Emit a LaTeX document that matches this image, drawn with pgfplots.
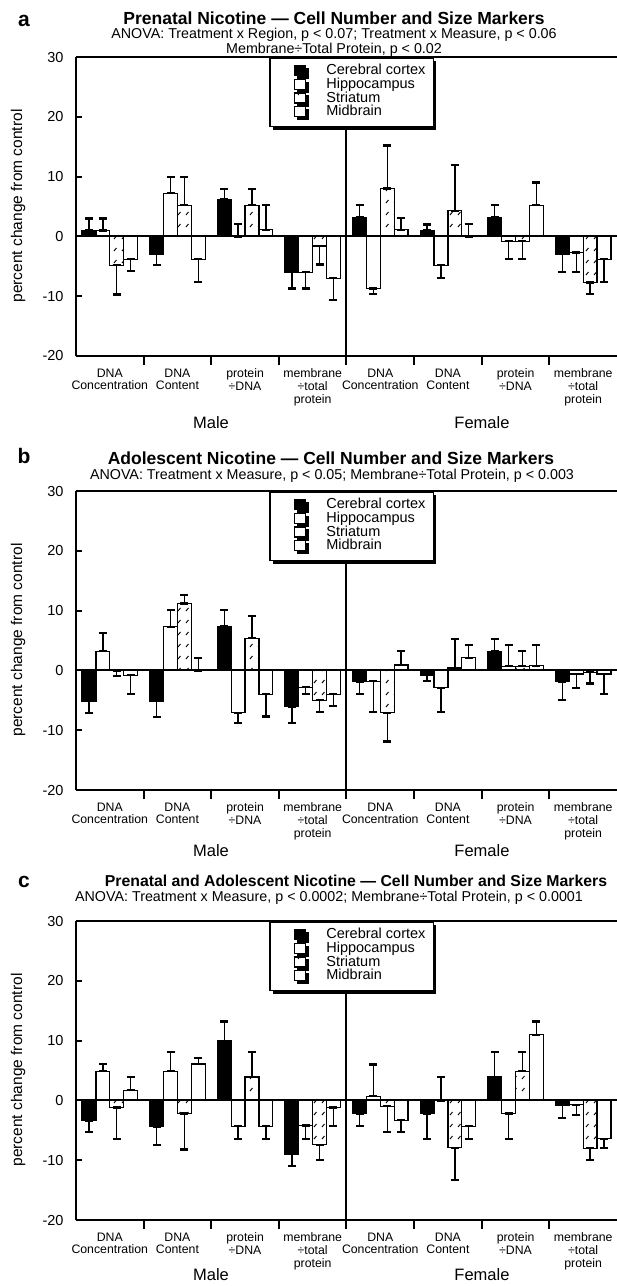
\documentclass[border=0pt]{standalone}
\usepackage{fontspec}
\setmainfont{Liberation Sans}
\usepackage{pgfplots}
\usepackage{pgfplotstable}
\pgfplotsset{compat=1.18}
\usetikzlibrary{patterns,shadows}

% sparse slanted dashes used for the striatum bars
\pgfdeclarepatternformonly{dashdots}{\pgfpoint{-1pt}{-1pt}}{\pgfpoint{9pt}{13pt}}{\pgfpoint{8pt}{12pt}}{%
  \pgfsetlinewidth{0.9pt}%
  \pgfpathmoveto{\pgfpoint{2pt}{3pt}}\pgfpathlineto{\pgfpoint{4.5pt}{6pt}}\pgfusepath{stroke}%
}

% columns: group centre, then value / error up / error down for
% cortex (c), hippocampus (h), striatum (s), midbrain (m)
\pgfplotstableread{
x   cy   cp  cm   hy   hp  hm   sy   sp  sm   my   mp  mm
0.5 1    2   0    1    2   0    -4.8 0   4.9  -3.8 0   2
1.5 -3   0   1.8  7.2  2.8 0    5.2  4.8 0    -3.8 0   3.8
2.5 6.2  1.7 0    0    2.1 0    5.2  2.7 0    1.1  4.1 0
3.5 -6   0   2.7  -6   0   2.7  -1.6 0   3.1  -7   0   3.7
4.5 3.2  2   0    -8.7 0   0.9  8    7.2 0    1.1  2   0
5.5 1    1   0    -4.8 0   2.1  4.3  7.7 0    0    2.1 0
6.5 3.2  2   0    -0.8 0   3    -0.8 0   3    5.2  3.8 0
7.5 -3   0   3    -2.7 0   3.3  -7.7 0   1.9  -3.8 0   3.8
}\prenatal

\pgfplotstableread{
x   cy   cp  cm   hy   hp  hm   sy   sp  sm   my   mp  mm
0.5 -5.1 0   2    3.2  3.1 0    0    0   1    -0.8 0   3.2
1.5 -5.1 0   2.7  7.3  2.8 0    11.2 1.4 0    0    2.1 0
2.5 7.4  2.7 0    -7.1 0   1.7  5.4  3.7 0    -4   0   3.7
3.5 -6.1 0   2.7  -2.8 0   1.2  -5   0   2    -4   0   2
4.5 -1.9 0   2.1  -1.8 0   5.2  -7.1 0   4.8  0.9  2.3 0
5.5 -0.8 0   1    -2.9 0   4.1  0.4  4.9 0    2.1  2.1 0
6.5 3.2  2.1 0    0.7  3.5 0    0.7  2.5 0    0.8  3.4 0
7.5 -1.9 0   3.1  -0.6 0   2.3  -0.3 0   1.9  -0.6 0   3.4
}\adolescent

\pgfplotstableread{
x   cy   cp  cm   hy   hp  hm   sy   sp  sm   my   mp  mm
0.5 -3.4 0   1.9  4.9  1.2 0    -1.2 0   5.3  1.7  2.2 0
1.5 -4.4 0   3    4.9  3.2 0    -2.2 0   6    6.1  1   0
2.5 10   3.2 0    -4.3 0   2.2  3.9  4.2 0    -4.3 0   2.2
3.5 -9   0   2    -4.2 0   2.3  -7.4 0   2.6  -1.2 0   3.1
4.5 -2.2 0   2.1  0.7  5.3 0    -1   0   4.3  -3.3 0   2
5.5 -2.2 0   4.3  0    3.9 0    -7.9 0   5.4  -4.3 0   2.2
6.5 3.9  4.2 0    -2.2 0   4.3  4.9  3.2 0    11   2.2 0
7.5 -0.8 0   2.1  -0.7 0   1.8  -8   0   2    -6.4 0   1.5
}\both

\pgfplotsset{
  panel/.style={
    scale only axis, width=541pt, height=299pt,
    anchor=south west, clip=false,
    xmin=0, xmax=8, ymin=-20, ymax=30,
    axis lines*=left, axis line style={line width=2pt},
    ytick={-20,-10,0,10,20,30},
    yticklabels={-20,-10,0,10,20,30},
    yticklabel style={font=\fontsize{14.5}{14.5}\selectfont, xshift=-9pt},
    major tick length=6pt, minor tick length=9pt, tick align=inside,
    every tick/.style={line width=2pt, black},
    xtick={0.5,1.5,...,7.5},
    major x tick style={draw=none},
    minor xtick={1,2,...,7},
    xticklabels={DNA\\Concentration, DNA\\Content, protein\\÷DNA, membrane\\÷total\\protein,
                 DNA\\Concentration, DNA\\Content, protein\\÷DNA, membrane\\÷total\\protein},
    xticklabel style={font=\fontsize{12.3}{12.8}\selectfont, align=center, yshift=-3pt},
    ybar, bar width=0.205,
    error bars/y dir=both, error bars/y explicit,
    error bars/error bar style={line width=1.3pt, black},
    error bars/error mark options={rotate=90, line width=2.2pt, mark size=4pt, black},
    legend cell align=left,
    legend image code/.code={%
      \path (-16pt,0pt);
      \draw[#1, draw=black, line width=1.3pt] (0pt,-4pt) rectangle (11pt,6pt);
      \path (31pt,0pt);},
    legend style={at={(axis cs:2.86,30)}, anchor=north west, fill=white,
      draw=black, line width=1.5pt, font=\fontsize{14.5}{14.5}\selectfont,
      drop shadow={shadow xshift=3pt, shadow yshift=-3pt, fill=black, opacity=1},
      inner xsep=8pt, inner ysep=7pt,
      nodes={inner sep=0pt, text height=10pt, text depth=3.7pt}},
  },
  cortex/.style={draw=black, fill=black, line width=1.2pt, bar shift=-0.3075},
  hippo/.style={draw=black, fill=white, line width=1.2pt, bar shift=-0.1025},
  stri/.style={draw=black, fill=white, postaction={pattern=dashdots}, line width=1.2pt, bar shift=0.1025},
  mid/.style={draw=black, fill=white, line width=1.2pt, bar shift=0.3075},
}

\newcommand\series[1]{%
  \addplot[cortex] table[x=x, y=cy, y error plus=cp, y error minus=cm] {#1};
  \addplot[hippo]  table[x=x, y=hy, y error plus=hp, y error minus=hm] {#1};
  \addplot[stri]   table[x=x, y=sy, y error plus=sp, y error minus=sm] {#1};
  \addplot[mid]    table[x=x, y=my, y error plus=mp, y error minus=mm] {#1};
  \draw[line width=2pt] (rel axis cs:0,1) -- (rel axis cs:1,1);
  \draw[line width=2pt] (axis cs:0,0) -- (axis cs:8,0);
  \draw[line width=2pt] (axis cs:4,-20) -- (axis cs:4,30);
  \legend{Cerebral cortex, Hippocampus, Striatum, Midbrain}
}

\begin{document}
\begin{tikzpicture}
\path[use as bounding box] (0,0) rectangle (617pt,-1286pt);

% ---- panel a ----
\begin{axis}[panel, at={(76pt,-356pt)}]
\series{\prenatal}
\end{axis}
\node[font=\bfseries\fontsize{21}{21}\selectfont] at (24pt,-21pt) {a};
\node[font=\bfseries\fontsize{17.5}{17.5}\selectfont] at (334pt,-18pt) {Prenatal Nicotine — Cell Number and Size Markers};
\node[font=\fontsize{14.3}{14.3}\selectfont] at (334pt,-35pt) {ANOVA: Treatment x Region, p < 0.07; Treatment x Measure, p < 0.06};
\node[font=\fontsize{14.3}{14.3}\selectfont] at (334pt,-50pt) {Membrane÷Total Protein, p < 0.02};
\node[rotate=90, font=\fontsize{15.5}{15.5}\selectfont] at (18pt,-206pt) {percent change from control};
\node[font=\fontsize{16.5}{16.5}\selectfont] at (211pt,-423pt) {Male};
\node[font=\fontsize{16.5}{16.5}\selectfont] at (482pt,-423pt) {Female};

% ---- panel b ----
\begin{axis}[panel, at={(76pt,-790pt)}]
\series{\adolescent}
\end{axis}
\node[font=\bfseries\fontsize{21}{21}\selectfont] at (24pt,-456pt) {b};
\node[font=\bfseries\fontsize{17.5}{17.5}\selectfont] at (331pt,-458pt) {Adolescent Nicotine — Cell Number and Size Markers};
\node[font=\fontsize{14.3}{14.3}\selectfont] at (332pt,-476pt) {ANOVA: Treatment x Measure, p < 0.05; Membrane÷Total Protein, p < 0.003};
\node[rotate=90, font=\fontsize{15.5}{15.5}\selectfont] at (18pt,-640pt) {percent change from control};
\node[font=\fontsize{16.5}{16.5}\selectfont] at (211pt,-851pt) {Male};
\node[font=\fontsize{16.5}{16.5}\selectfont] at (482pt,-851pt) {Female};

% ---- panel c ----
\begin{axis}[panel, at={(76pt,-1220pt)}]
\series{\both}
\end{axis}
\node[font=\bfseries\fontsize{21}{21}\selectfont] at (24pt,-882pt) {c};
\node[font=\bfseries\fontsize{15.8}{15.8}\selectfont] at (356pt,-881pt) {Prenatal and Adolescent Nicotine — Cell Number and Size Markers};
\node[font=\fontsize{14.3}{14.3}\selectfont] at (329pt,-898pt) {ANOVA: Treatment x Measure, p < 0.0002; Membrane÷Total Protein, p < 0.0001};
\node[rotate=90, font=\fontsize{15.5}{15.5}\selectfont] at (18pt,-1070pt) {percent change from control};
\node[font=\fontsize{16.5}{16.5}\selectfont] at (211pt,-1275pt) {Male};
\node[font=\fontsize{16.5}{16.5}\selectfont] at (482pt,-1275pt) {Female};
\end{tikzpicture}
\end{document}
